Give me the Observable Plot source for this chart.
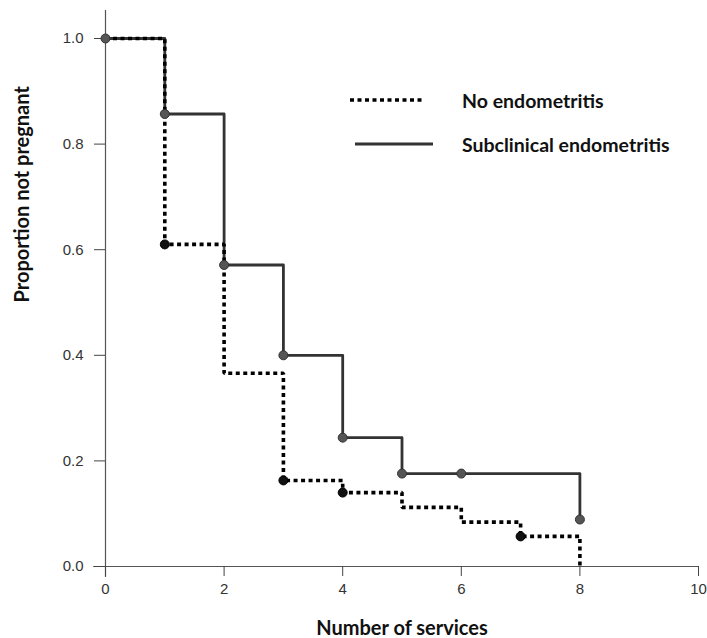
<!DOCTYPE html>
<html>
<head>
<meta charset="utf-8">
<script src="https://cdn.jsdelivr.net/npm/d3@7"></script>
<script src="https://cdn.jsdelivr.net/npm/@observablehq/plot@0.6"></script>
<style>
  html, body { margin: 0; padding: 0; background: #fff; }
  #wrap { position: relative; width: 707px; height: 638px; }
  #legend { position: absolute; left: 348px; top: 78px; font-family: Lato, "Open Sans", sans-serif; font-weight: bold; font-size: 19.5px; color: #111; }
  .row { display: flex; align-items: center; height: 44px; }
  .row svg { width: 114px; height: 24px; }
</style>
</head>
<body>
<div id="wrap">
  <div id="legend"></div>
</div>
<script>
// Subclinical endometritis (solid)
const subTimes = [0, 1, 2, 3, 4, 5, 6, 8];
const subSurv  = [1.0, 0.857, 0.571, 0.40, 0.244, 0.176, 0.176, 0.089];
// No endometritis (dotted)
const noTimes = [0, 1, 2, 3, 4, 5, 6, 7, 8];
const noSurv  = [1.0, 0.61, 0.366, 0.163, 0.14, 0.112, 0.084, 0.057, 0.0];
// marked points
const subMarkTimes = [0, 1, 2, 3, 4, 5, 6, 8];
const noMarkTimes = [1, 3, 4, 7];

const xTicks = [0, 2, 4, 6, 8, 10];
const yTicks = [0, 0.2, 0.4, 0.6, 0.8, 1.0];
const seriesNames = ["No endometritis", "Subclinical endometritis"];

const sub = subTimes.map((t, i) => ({t, s: subSurv[i]}));
const no = noTimes.map((t, i) => ({t, s: noSurv[i]}));
const subMarks = sub.filter(d => subMarkTimes.includes(d.t));
const noMarks = no.filter(d => noMarkTimes.includes(d.t));

const tickFont = "'Liberation Sans', Arial, sans-serif";

const chart = Plot.plot({
  width: 707,
  height: 638,
  marginLeft: 105,
  marginRight: 9,
  marginTop: 38,
  marginBottom: 72,
  style: { fontFamily: tickFont, background: "#fff" },
  x: { domain: [0, 10] },
  y: { domain: [0, 1] },
  marks: [
    // axis lines
    Plot.ruleX([0], { y1: -0.021, y2: 1.053, stroke: "#555", strokeWidth: 1.2 }),
    Plot.ruleY([0], { x1: -0.2, x2: 10, stroke: "#555", strokeWidth: 1.2 }),
    Plot.axisX({ ticks: xTicks, tickSize: 10, color: "#444", label: null, tickFormat: () => "" }),
    Plot.axisY({ ticks: yTicks, tickSize: 11, color: "#444", label: null, tickFormat: () => "" }),
    // tick labels
    Plot.text(xTicks, { x: d => d, frameAnchor: "bottom", dy: 27, fontSize: 15, fill: "#333", fontFamily: tickFont, text: d3.format("d") }),
    Plot.text(yTicks, { y: d => d, frameAnchor: "left", dx: -22, textAnchor: "end", fontSize: 15, fill: "#333", fontFamily: tickFont, text: d3.format(".1f") }),
    // curves
    Plot.line(sub, { x: "t", y: "s", curve: "step-after", stroke: "#333", strokeWidth: 2.8 }),
    Plot.line(no, { x: "t", y: "s", curve: "step-after", stroke: "#000", strokeWidth: 3.6, strokeDasharray: "4,3.5", strokeLinecap: "butt", strokeLinejoin: "miter" }),
    Plot.dot(noMarks, { x: "t", y: "s", r: 4.5, fill: "#111", stroke: "#000", strokeWidth: 1 }),
    Plot.dot(subMarks, { x: "t", y: "s", r: 4.5, fill: "#555", stroke: "#333", strokeWidth: 1 }),
    // axis titles
    Plot.text(["Proportion not pregnant"], { frameAnchor: "left", dx: -83, rotate: -90, fontSize: 20, fontWeight: "bold", fontFamily: "Lato, 'Open Sans', sans-serif", fill: "#111" }),
    Plot.text(["Number of services"], { frameAnchor: "bottom", dy: 68, fontSize: 20, fontWeight: "bold", fontFamily: "Lato, 'Open Sans', sans-serif", fill: "#111" })
  ]
});
document.getElementById("wrap").prepend(chart);

// legend
const legend = document.getElementById("legend");
const styles = [
  { dash: "4,3.5", width: 3.6, x1: 2, x2: 74, color: "#000" },
  { dash: null, width: 3, x1: 7, x2: 85, color: "#333" }
];
seriesNames.forEach((name, i) => {
  const row = document.createElement("div");
  row.className = "row";
  const st = styles[i];
  row.innerHTML = `<svg><line x1="${st.x1}" x2="${st.x2}" y1="12" y2="12" stroke="${st.color}" stroke-width="${st.width}" ${st.dash ? `stroke-dasharray="${st.dash}"` : ""}/></svg><span>${name}</span>`;
  legend.appendChild(row);
});
</script>
</body>
</html>
